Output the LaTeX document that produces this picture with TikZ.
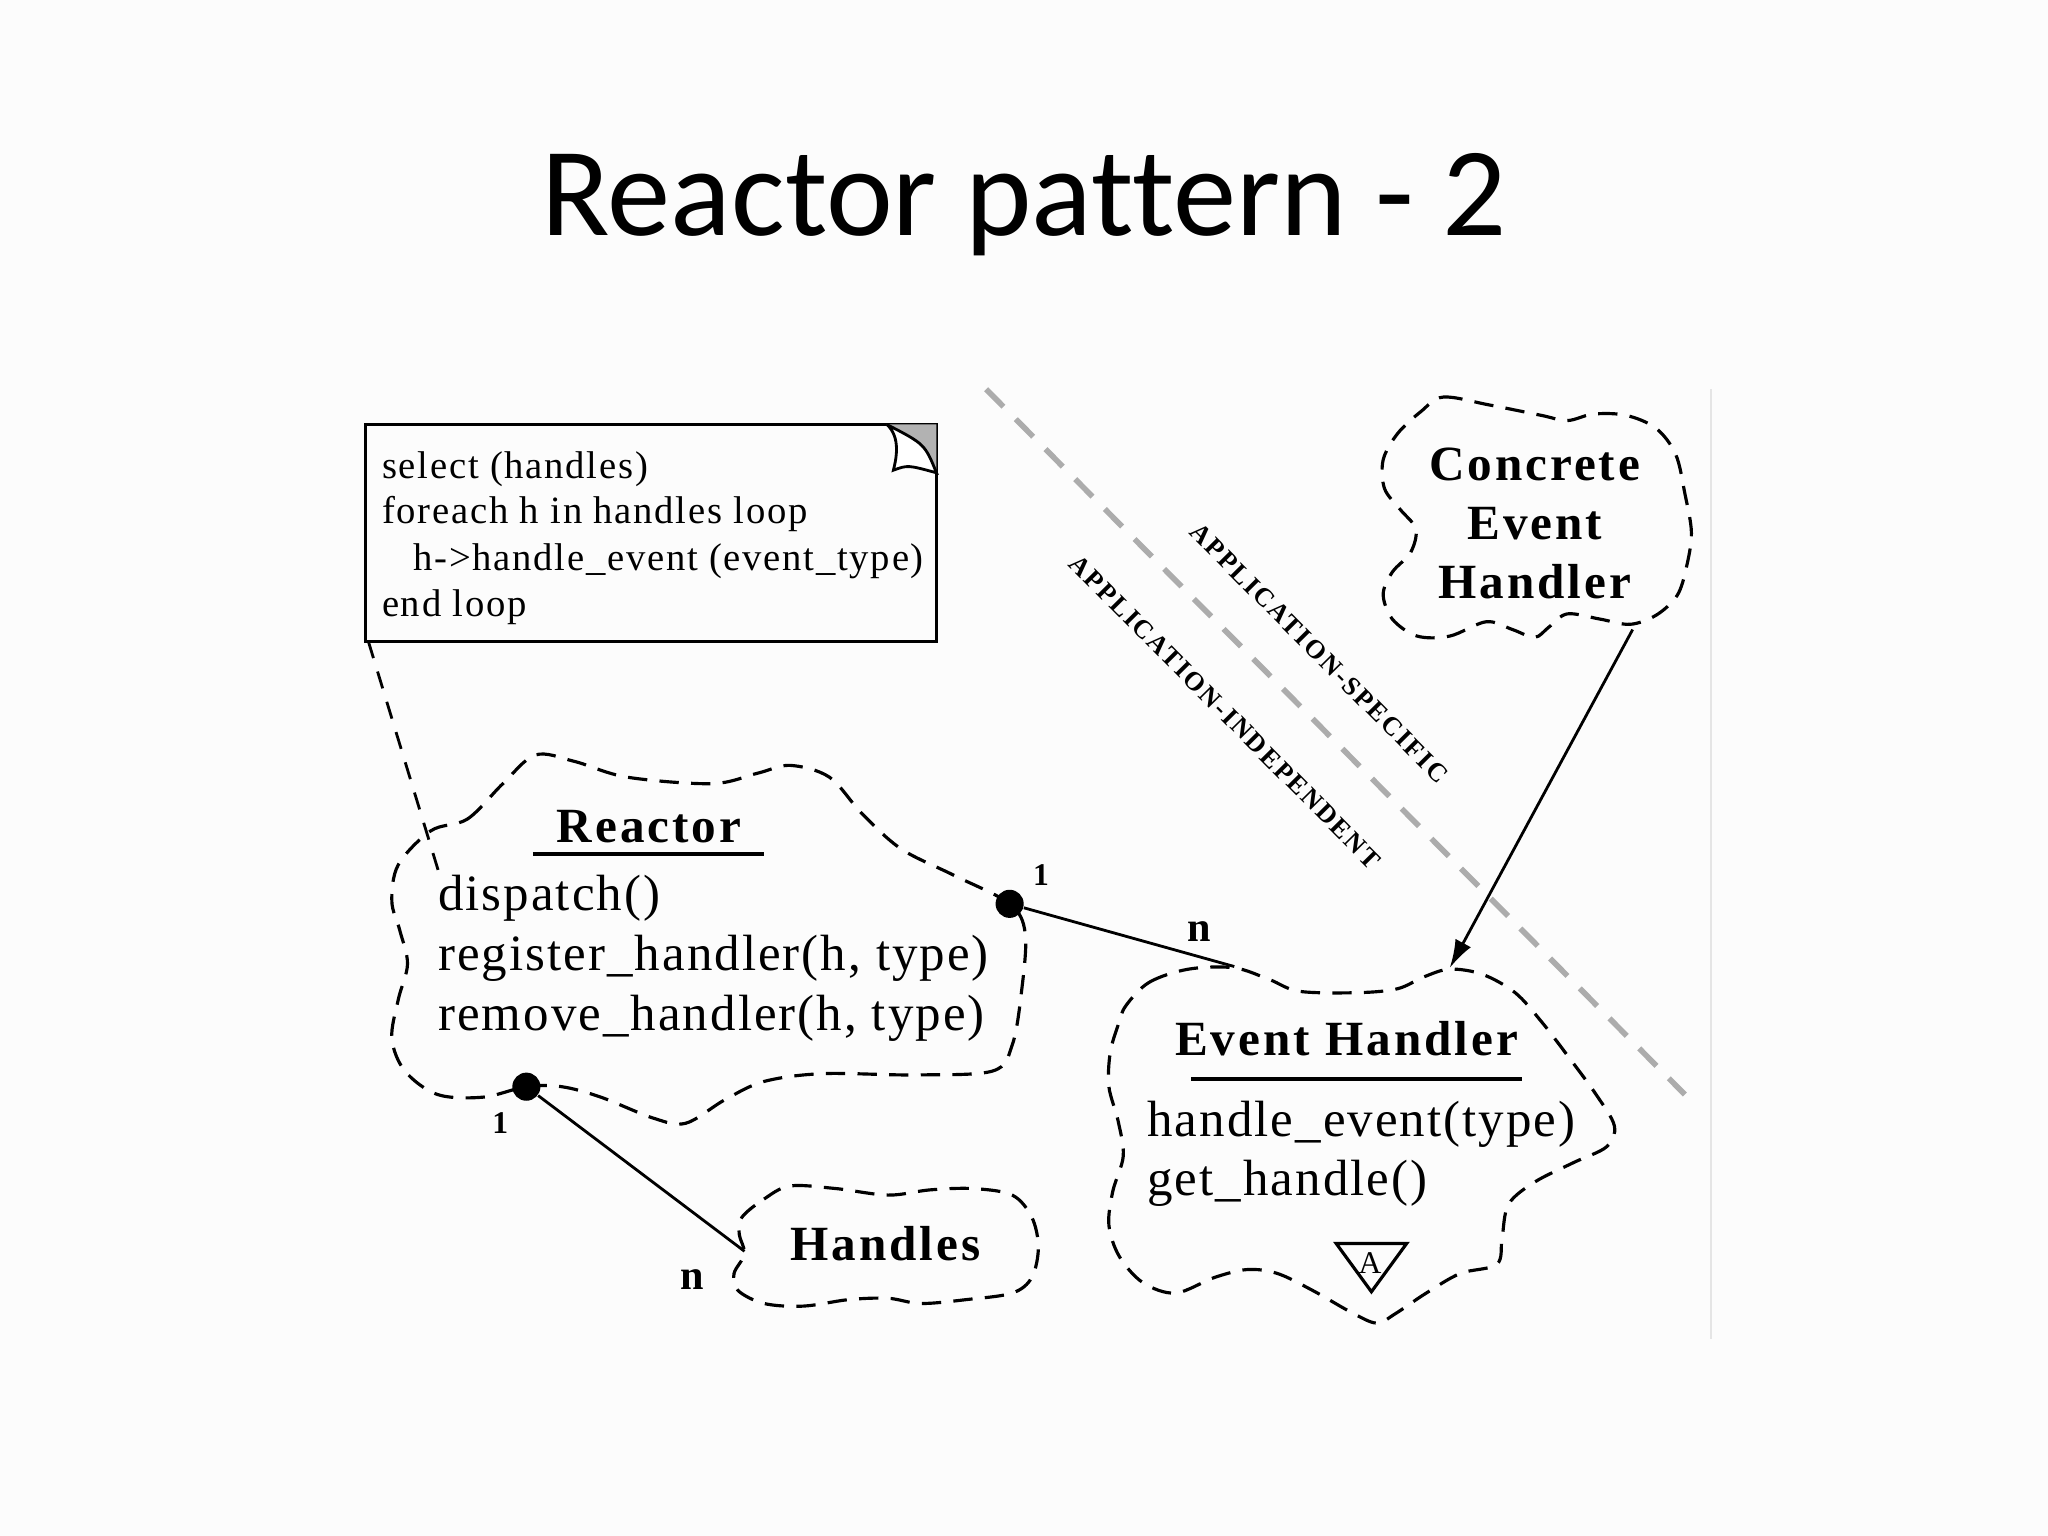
\documentclass[tikz,border=0pt]{standalone}
\usepackage{fontspec}
\setmainfont{Liberation Serif}
\newfontfamily\titlefont[Ligatures={NoCommon,NoDiscretionary}]{Carlito}
\newfontfamily\notefont[LetterSpace=4.5]{Liberation Serif}
\newfontfamily\methfont[LetterSpace=4]{Liberation Serif}
\newfontfamily\headfont[LetterSpace=6]{Liberation Serif}
\newfontfamily\zonefont[LetterSpace=8]{Liberation Serif}
\usetikzlibrary{arrows.meta}
\begin{document}
\begin{tikzpicture}[x=0.013061cm,y=-0.013061cm,
  cloud/.style={draw=black,line width=0.9pt,dash pattern=on 5.5pt off 3.5pt},
  headtxt/.style={inner sep=0pt,anchor=base,font=\headfont\fontsize{14}{16.7}\selectfont\bfseries},
  methtxt/.style={inner sep=0pt,anchor=base west,font=\methfont\fontsize{14.5}{17}\selectfont},
  notetxt/.style={inner sep=0pt,anchor=base west,font=\notefont\fontsize{11}{13.2}\selectfont},
  multtxt/.style={inner sep=0pt,font=\bfseries\fontsize{12}{14}\selectfont},
  onetxt/.style={inner sep=0pt,font=\bfseries\fontsize{9}{11}\selectfont},
  zonetxt/.style={inner sep=0pt,rotate=-45.3,font=\zonefont\fontsize{7.5}{9}\selectfont\bfseries},
  dotnode/.style={circle,fill=black,inner sep=0pt,minimum size=8pt},
  link/.style={line width=0.8pt}
]
\useasboundingbox (0,0) rectangle (1568,1176);
\fill[white!99!black] (0,0) rectangle (1568,1176);
\draw[black!10,line width=0.8pt] (1310,298) -- (1310,1025);

% title
\node[inner sep=0pt,anchor=base] (title) at (784,180) {\titlefont\fontsize{36}{40}\selectfont Reactor pattern - 2};

% note box
\draw[line width=0.8pt] (280,325) rectangle (717,491);
\fill[gray!60] (679,325) -- (717,325) -- (717,362) .. controls (708,340) .. (679,325);
\draw[line width=0.8pt,fill=white] (679,325) .. controls (690,335) and (686,352) .. (684,360) .. controls (695,356) .. (717,362) .. controls (708,340) .. (679,325);
\node[notetxt] (n1) at (292,366) {select (handles)};
\node[notetxt] (n2) at (292,401) {foreach h in handles loop};
\node[notetxt] (n3) at (316,437) {h->handle\_event (event\_type)};
\node[notetxt] (n4) at (292,472) {end loop};
\coordinate (noteanchor) at (282,491);

% zone boundary
\draw[gray!65,line width=1.6pt,dash pattern=on 7pt off 5pt] (755,298) -- (1290,838);
\node[zonetxt] (spec) at (1010,500) {APPLICATION-SPECIFIC};
\node[zonetxt] (indep) at (938,545) {APPLICATION-INDEPENDENT};

% Reactor cloud
\draw[cloud] plot[smooth cycle,tension=0.55] coordinates {
 (330,636) (358,627) (385,600) (410,578) (440,583) (480,595) (545,600) (580,592) (605,586)
 (635,595) (660,623) (690,650) (730,670) (773,692) (785,715) (782,760) (775,800) (760,820)
 (700,823) (630,822) (585,828) (555,842) (525,860) (500,856) (460,840) (430,832) (403,832)
 (370,840) (335,838) (310,820) (300,795) (305,765) (312,738) (306,712) (300,690) (305,662)};
\node[headtxt] (reactor) at (497,645) {Reactor};
\draw[line width=1.1pt] (408,654) -- (585,654);
\node[methtxt] (m1) at (335,697) {dispatch()};
\node[methtxt] (m2) at (335,743) {register\_handler(h, type)};
\node[methtxt] (m3) at (335,789) {remove\_handler(h, type)};
\coordinate (reactorin) at (336,668);

% Handles cloud
\draw[cloud] plot[smooth cycle,tension=0.55] coordinates {
 (568,932) (585,918) (605,908) (640,910) (680,915) (712,911) (745,910) (775,915) (790,932)
 (795,955) (790,978) (775,990) (740,995) (705,998) (680,994) (650,995) (615,1000) (585,998)
 (565,988) (562,975) (570,960) (566,945)};
\node[headtxt] (handles) at (678,965) {Handles};
\coordinate (handlesin) at (570,958);

% Event Handler cloud
\draw[cloud] plot[smooth cycle,tension=0.55] coordinates {
 (862,770) (880,752) (910,742) (945,741) (972,750) (995,759) (1040,760) (1070,757) (1090,748)
 (1110,742) (1135,746) (1160,760) (1180,782) (1200,808) (1222,838) (1236,862) (1230,878)
 (1205,890) (1175,905) (1155,922) (1150,948) (1146,968) (1118,975) (1092,990) (1068,1006)
 (1054,1013) (1035,1005) (1005,988) (978,975) (955,972) (930,978) (900,990) (875,982)
 (857,962) (849,938) (852,912) (860,885) (856,858) (849,832) (850,806) (856,785)};
\node[headtxt] (eh) at (1031,808) {Event Handler};
\draw[line width=1.1pt] (912,826) -- (1165,826);
\node[methtxt] (e1) at (878,870) {handle\_event(type)};
\node[methtxt] (e2) at (878,915) {get\_handle()};
\draw[line width=0.9pt] (1023,952) -- (1077,952) -- (1050,989) -- cycle;
\node[inner sep=0pt,font=\fontsize{9}{11}\selectfont] (abs) at (1049,967) {A};
\coordinate (ehleft) at (945,740);
\coordinate (ehtop) at (1110,741);

% Concrete Event Handler cloud
\draw[cloud] plot[smooth cycle,tension=0.55] coordinates {
 (1088,315) (1105,304) (1140,310) (1180,318) (1200,322) (1220,317) (1245,318) (1268,328)
 (1283,348) (1290,378) (1295,408) (1291,435) (1284,456) (1268,471) (1248,478) (1225,474)
 (1200,470) (1186,480) (1175,488) (1158,482) (1138,476) (1110,487) (1085,487) (1066,474)
 (1059,455) (1066,438) (1080,423) (1084,405) (1072,390) (1060,374) (1059,352) (1070,332)};
\node[headtxt] (ceh1) at (1175,368) {Concrete};
\node[headtxt] (ceh2) at (1175,413) {Event};
\node[headtxt] (ceh3) at (1175,458) {Handler};
\coordinate (cehbottom) at (1250,482);

% dots and links
\node[dotnode] (dot1) at (773,692) {};
\node[dotnode] (dot2) at (403,832) {};
\draw[link] (dot1) -- (ehleft);
\draw[link] (dot2) -- (handlesin);
\draw[link,-{Latex[length=8pt,width=5pt]}] (cehbottom) -- (ehtop);
\draw[line width=0.8pt,dash pattern=on 5pt off 4pt] (noteanchor) -- (reactorin);

\node[onetxt] (one1) at (797,670) {1};
\node[multtxt] (nn1) at (918,713) {n};
\node[onetxt] (one2) at (383,860) {1};
\node[multtxt] (nn2) at (530,980) {n};
\end{tikzpicture}
\end{document}
